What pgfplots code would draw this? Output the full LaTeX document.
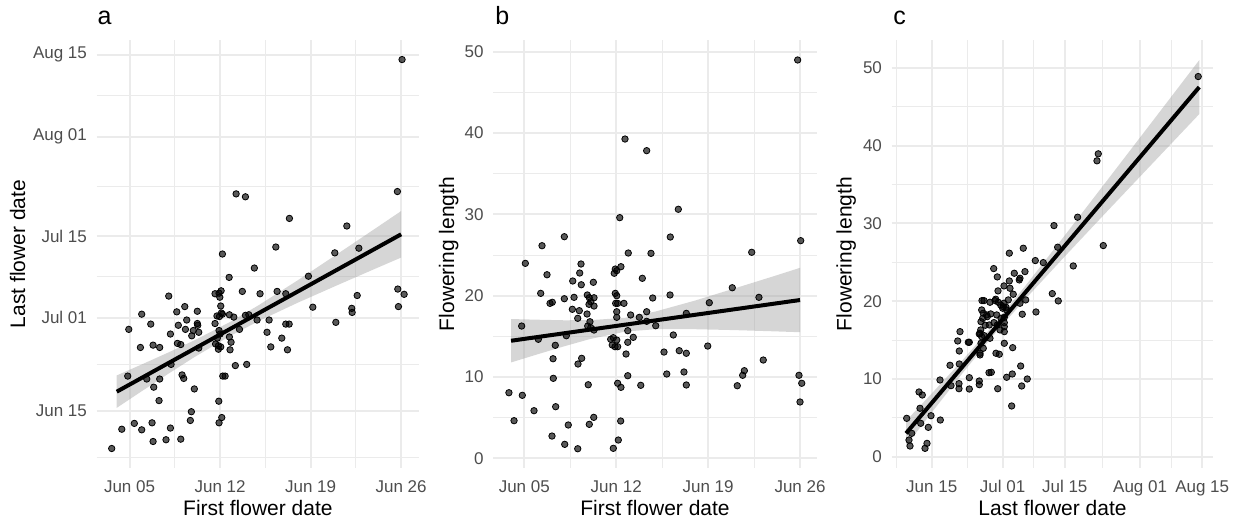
\documentclass[border=0pt]{standalone}
\usepackage{pgfplots}
\usepackage{pgfplotstable}
\pgfplotsset{compat=1.18}
\usepackage{fontspec}
\setmainfont{Liberation Sans}
\definecolor{gridc}{HTML}{EBEBEB}
\definecolor{tickc}{HTML}{4D4D4D}

% Panel a: first flower day (June day) vs last flower day (days from Jun 0: Jul 01 = 31)
\pgfplotstableread{
x y
3.62 8.6
4.40 11.9
5.37 12.9
5.94 11.8
6.74 13.0
6.82 9.8
7.82 10.1
8.16 12.1
8.96 10.2
9.70 13.4
9.78 14.9
11.92 13.0
12.13 13.9
11.90 16.7
10.01 18.8
7.28 16.8
6.87 19.1
7.33 20.5
6.33 20.5
4.86 21.0
8.21 23.0
9.06 21.2
9.19 20.6
12.21 21.0
12.39 21.0
13.18 22.8
14.06 23.0
4.94 29.0
5.84 25.9
6.82 26.3
7.33 25.9
5.94 31.6
6.64 29.9
8.16 28.2
8.03 34.7
8.65 32.0
8.77 29.7
8.70 26.6
8.96 26.4
9.27 32.9
9.42 30.6
9.32 29.0
9.81 27.9
9.93 28.8
10.24 32.1
10.24 30.0
10.27 29.7
10.35 28.5
10.35 25.8
11.61 35.1
11.92 35.2
12.08 35.6
11.98 34.5
12.05 33.0
11.76 31.3
11.95 31.2
12.18 31.6
11.61 30.0
11.92 28.8
11.79 27.5
12.0 28.2
11.87 26.2
11.87 25.6
12.05 26.0
12.18 41.9
12.70 37.9
12.72 31.5
12.72 27.7
12.85 26.8
12.77 25.5
13.06 31.1
13.24 52.2
13.96 51.7
13.72 35.5
13.96 31.4
14.22 31.5
14.65 39.5
15.09 35.1
14.86 30.6
15.79 30.6
15.63 28.5
15.92 26.0
16.31 43.1
16.41 35.5
16.77 27.5
17.08 29.9
17.34 29.9
17.21 25.5
17.08 35.1
17.36 48.0
18.83 38.1
19.17 32.8
20.87 42.1
20.95 30.2
21.80 46.7
22.18 32.6
22.21 31.9
22.60 34.8
22.73 42.9
25.71 52.6
25.74 35.9
26.23 35.0
25.79 32.9
26.07 75.2
13.5 29.0
12.1 31.8
11.65 26.5
}\dataA

% Panel b: first flower day vs flowering length
\pgfplotstableread{
x y
3.83 8.07
4.22 4.63
4.85 7.75
4.80 16.27
5.08 23.98
5.74 5.86
6.07 14.64
6.35 26.15
6.25 20.29
6.73 22.58
6.96 19.06
7.13 19.19
7.36 13.90
7.19 12.25
7.21 9.84
7.39 6.35
7.11 2.74
8.05 27.26
8.05 19.63
8.20 15.08
8.08 1.72
8.35 4.10
8.69 21.81
8.66 18.33
8.79 19.80
9.07 17.22
9.19 18.16
9.07 1.18
9.22 22.79
9.32 23.90
9.34 21.35
9.09 11.60
9.37 12.30
9.87 9.05
9.95 4.18
10.29 5.04
9.80 20.09
9.95 19.75
10.06 19.26
10.31 19.75
9.93 18.94
10.31 18.73
10.26 21.65
9.78 17.75
10.00 16.80
9.83 16.27
10.06 16.06
10.31 15.78
11.93 23.28
12.04 23.08
11.85 22.76
12.36 23.57
12.27 29.60
11.93 20.29
12.04 20.00
12.11 19.06
11.96 19.06
12.59 19.06
12.04 18.03
12.04 17.34
11.58 14.64
11.78 14.84
11.70 13.94
11.91 13.73
12.11 13.73
12.04 14.55
12.88 15.70
12.88 14.27
12.75 12.83
12.88 10.16
12.11 9.23
12.36 8.73
12.34 4.59
12.16 2.25
11.78 1.23
12.67 39.27
12.92 25.25
13.10 17.63
13.30 14.88
13.76 17.34
13.99 22.14
13.87 8.98
14.32 37.84
14.65 25.21
14.32 18.03
14.32 16.85
14.78 19.72
15.01 16.31
15.64 13.07
15.85 10.37
16.12 27.22
16.10 20.09
16.35 15.17
16.73 30.63
16.80 13.24
17.34 12.92
17.16 10.62
17.34 9.02
17.34 17.83
18.97 13.81
19.09 19.14
20.84 20.98
21.22 8.93
21.63 10.21
21.76 10.78
22.32 25.34
22.87 19.80
23.20 12.09
25.82 48.99
26.05 26.77
25.92 10.21
26.13 9.23
26.00 6.93
}\dataB

% Panel c: last flower day vs flowering length
\pgfplotstableread{
x y
75.10 48.90
52.56 38.96
52.27 38.06
53.69 27.16
47.90 30.81
46.92 24.54
42.57 29.73
43.40 26.95
42.19 20.98
43.54 20.04
38.36 25.23
40.16 24.97
38.51 18.62
32.50 26.18
35.65 26.82
28.98 24.20
29.79 23.13
33.62 23.60
36.03 23.81
34.90 22.96
34.75 22.74
32.50 22.61
31.30 21.97
32.65 21.67
29.95 21.33
32.27 20.17
33.39 20.90
36.19 20.17
26.34 20.08
26.79 20.08
28.14 19.87
29.27 20.08
30.01 19.87
30.55 19.52
31.30 19.74
31.75 19.23
31.00 19.10
26.27 18.88
26.63 18.46
27.40 18.24
28.30 18.37
29.65 18.24
35.42 18.33
27.08 16.91
27.98 16.95
26.05 16.31
25.89 15.88
29.04 17.25
29.79 16.95
30.40 16.31
31.37 17.25
31.37 16.73
31.37 16.09
25.73 15.79
26.27 15.44
26.86 15.57
28.14 15.24
26.11 14.59
26.63 13.95
25.89 13.31
21.38 16.09
20.86 14.89
23.25 14.72
23.48 14.72
21.22 13.60
31.37 14.59
33.26 14.03
29.49 13.31
30.24 13.18
19.13 11.76
21.22 11.93
28.44 10.86
31.90 10.22
33.17 10.64
35.06 11.67
36.55 10.00
35.29 9.10
29.88 8.75
33.03 6.53
16.87 9.87
19.35 9.14
21.15 9.40
21.15 8.75
23.48 10.17
23.48 8.71
25.73 9.74
25.73 9.27
12.14 8.33
12.88 7.94
12.36 6.23
14.84 5.28
16.94 4.72
9.36 4.94
12.52 4.30
14.23 3.78
10.49 3.01
9.88 2.15
10.11 1.38
13.94 1.72
13.49 1.08
31.14 19.30
31.90 18.88
26.11 17.37
27.53 18.02
30.62 17.81
31.37 17.94
25.89 13.09
27.92 10.81
34.90 19.74
29.43 20.26
26.50 17.81
}\dataC

\pgfplotsset{
  panel/.style={
    scale only axis, height=214pt, anchor=south west,
    axis line style={draw=none},
    tick style={draw=none},
    major tick length=0pt, minor tick length=0pt,
    grid=both,
    major grid style={draw=gridc, line width=1pt},
    minor grid style={draw=gridc, line width=0.55pt},
    tick label style={font=\fontsize{8.5}{10}\selectfont, text=tickc, inner sep=0pt},
    xticklabel style={anchor=base, yshift=-12.25pt},
    yticklabel style={anchor=east, xshift=-4.7pt},
    clip=true,
  },
  pts/.style={only marks, mark=*, mark size=1.6pt,
    mark options={draw=none, fill=black, fill opacity=0.65}},
  band/.style={draw=none, fill=black!40, fill opacity=0.4},
  fit/.style={black, line width=2pt, no marks},
}

\begin{document}
\begin{tikzpicture}
\useasboundingbox (0,0) rectangle (620.5pt,260.5pt);

% ---------- panel a ----------
\begin{axis}[panel, at={(48.35pt,26.5pt)}, width=161.15pt,
  xmin=2.46, xmax=27.38, ymin=5.26, ymax=78.55,
  xtick={5,12,19,26}, xticklabels={Jun 05,Jun 12,Jun 19,Jun 26},
  minor xtick={1.5,8.5,15.5,22.5},
  ytick={15,31,45,62,76}, yticklabels={Jun 15,Jul 01,Jul 15,Aug 01,Aug 15},
  minor ytick={7,23,38,53.5,69}]
\addplot[pts] table[x=x,y=y] {\dataA};
\addplot[band] coordinates {(4.01,21.11) (6,23.05) (8,25.04) (10,27.11) (12.77,30.26) (15,33.16) (18,37.40) (21,41.80) (24,46.27) (26,49.26)
 (26,41.30) (24,39.39) (21,36.50) (18,33.56) (15,30.44) (12.77,27.86) (10,24.23) (8,21.40) (6,18.49) (4.01,15.55)} -- cycle;
\addplot[fit] coordinates {(4.01,18.33) (26.0,45.28)};
\end{axis}

% ---------- panel b ----------
\begin{axis}[panel, at={(246.65pt,26.5pt)}, width=161.7pt,
  xmin=2.64, xmax=27.27, ymin=-1.19, ymax=51.45,
  xtick={5,12,19,26}, xticklabels={Jun 05,Jun 12,Jun 19,Jun 26},
  minor xtick={1.5,8.5,15.5,22.5},
  ytick={0,10,20,30,40,50}, yticklabels={0,10,20,30,40,50},
  minor ytick={5,15,25,35,45}]
\addplot[pts] table[x=x,y=y] {\dataB};
\addplot[band] coordinates {(3.99,17.13) (6,17.05) (8,16.98) (10,16.99) (12.7,17.29) (15,18.06) (18,19.40) (21,20.89) (24,22.40) (26,23.43)
 (26,15.51) (24,15.62) (21,15.77) (18,15.88) (15,15.88) (12.7,15.59) (10,14.67) (8,13.76) (6,12.79) (3.99,11.79)} -- cycle;
\addplot[fit] coordinates {(3.99,14.46) (26.0,19.47)};
\end{axis}

% ---------- panel c ----------
\begin{axis}[panel, at={(445.85pt,26.5pt)}, width=160.8pt,
  xmin=5.98, xmax=78.5, ymin=-1.45, ymax=53.6,
  xtick={15,31,45,62,76}, xticklabels={Jun 15,Jul 01,Jul 15,Aug 01,Aug 15},
  minor xtick={7,23,38,53.5,69},
  ytick={0,10,20,30,40,50}, yticklabels={0,10,20,30,40,50},
  minor ytick={5,15,25,35,45}]
\addplot[pts] table[x=x,y=y] {\dataC};
\addplot[band] coordinates {(9.21,4.61) (15,8.13) (22,12.46) (29,17.00) (36,21.89) (45,28.46) (55,35.87) (65,43.31) (75.33,51.01)
 (75.33,44.07) (65,37.85) (55,31.83) (45,25.76) (36,20.21) (29,15.68) (22,10.78) (15,5.69) (9.21,1.41)} -- cycle;
\addplot[fit] coordinates {(9.21,3.01) (75.33,47.54)};
\end{axis}

% ---------- tags and titles ----------
\begin{scope}[every node/.style={inner sep=0pt}]
\node[anchor=base west, font=\fontsize{12.5}{14}\selectfont] at (48.65pt,248pt) {a};
\node[anchor=base west, font=\fontsize{12.5}{14}\selectfont] at (247.5pt,248pt) {b};
\node[anchor=base west, font=\fontsize{12.5}{14}\selectfont] at (446.5pt,248pt) {c};
\node[rotate=90, anchor=base, font=\fontsize{10.5}{12}\selectfont] at (12.5pt,133.5pt) {Last flower date};
\node[rotate=90, anchor=base, font=\fontsize{10.5}{12}\selectfont] at (227pt,133.5pt) {Flowering length};
\node[rotate=90, anchor=base, font=\fontsize{10.5}{12}\selectfont] at (425.75pt,133.5pt) {Flowering length};
\node[anchor=base, font=\fontsize{10.5}{12}\selectfont] at (128.95pt,3pt) {First flower date};
\node[anchor=base, font=\fontsize{10.5}{12}\selectfont] at (327.5pt,3pt) {First flower date};
\node[anchor=base, font=\fontsize{10.5}{12}\selectfont] at (526.25pt,3pt) {Last flower date};
\end{scope}
\end{tikzpicture}
\end{document}
